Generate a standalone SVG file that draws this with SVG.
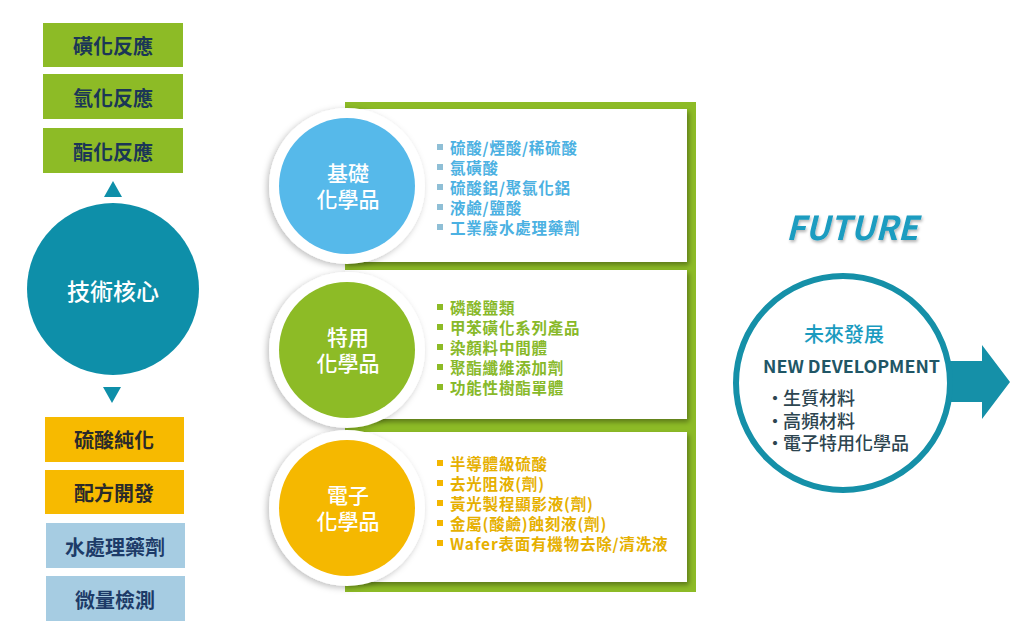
<svg xmlns="http://www.w3.org/2000/svg" width="1024" height="634" viewBox="0 0 1024 634">
<defs>
<filter id="sh" x="-20%" y="-20%" width="140%" height="140%">
<feDropShadow dx="2" dy="3" stdDeviation="2.5" flood-color="#000" flood-opacity="0.35"/>
</filter>
<filter id="rsh" x="-20%" y="-20%" width="140%" height="140%">
<feDropShadow dx="-2" dy="2" stdDeviation="3" flood-color="#000" flood-opacity="0.25"/>
</filter>
<filter id="tsh" x="-10%" y="-20%" width="120%" height="150%">
<feDropShadow dx="1" dy="2" stdDeviation="1.5" flood-color="#000" flood-opacity="0.3"/>
</filter>
</defs>
<style>
text{font-family:"Noto Sans CJK TC","Noto Sans",sans-serif;dominant-baseline:central}
.lbl{font-size:20px;font-weight:700;text-anchor:middle}
.g{fill:#8dbb26}
.o{fill:#f7ba00}
.b{fill:#a6cce2}
.cl{font-size:21px;fill:#fff;text-anchor:middle;font-weight:500}
.li{font-size:15.5px;font-weight:700;letter-spacing:0.8px}
.t1{fill:#4cb1e2}.t2{fill:#88b929}.t3{fill:#e6b000}
.rt{font-size:18px;fill:#2d4550;font-weight:500}
</style>
<rect width="1024" height="634" fill="#fff"/>

<g id="top-boxes">
<rect class="g" x="43" y="23" width="140" height="44"/>
<text class="lbl" x="113" y="45" fill="#1b3656">磺化反應</text>
<rect class="g" x="43" y="74" width="140" height="45"/>
<text class="lbl" x="113" y="97" fill="#1b3656">氫化反應</text>
<rect class="g" x="43" y="128" width="140" height="45"/>
<text class="lbl" x="113" y="151" fill="#1b3656">酯化反應</text>
</g>

<g id="connectors">
<polygon points="113,181 122,197 104,197" fill="#0e8fa9"/>
<polygon points="103,387 121,387 112,403" fill="#0e8fa9"/>
<polygon points="950,361 982,361 982,345 1010,382 982,419 982,402 950,402" fill="#1590a8"/>
</g>

<g id="core">
<circle cx="113" cy="289" r="86" fill="#0e8fa9"/>
<text x="113" y="290" font-size="23" font-weight="500" fill="#fff" text-anchor="middle">技術核心</text>
</g>

<g id="bottom-boxes">
<rect class="o" x="45" y="417" width="139" height="45"/>
<text class="lbl" x="114" y="439" fill="#2a2a2a">硫酸純化</text>
<rect class="o" x="45" y="470" width="139" height="44"/>
<text class="lbl" x="114" y="492" fill="#2a2a2a">配方開發</text>
<rect class="b" x="46" y="523" width="139" height="45"/>
<text class="lbl" x="115" y="546" fill="#1d3b68" font-size="19">水處理藥劑</text>
<rect class="b" x="46" y="576" width="139" height="45"/>
<text class="lbl" x="115" y="599" fill="#1d3b68" font-size="19">微量檢測</text>
</g>

<g id="frame">
<rect class="g" x="345" y="102" width="351" height="490"/>
</g>

<g id="panel-basic">
<rect x="345" y="109" width="342" height="153" fill="#fff" filter="url(#sh)"/>
<circle cx="347" cy="186" r="78" fill="#fff" filter="url(#rsh)"/>
<circle cx="347" cy="186" r="68" fill="#56b9ea"/>
<text class="cl" x="348" y="172">基礎</text>
<text class="cl" x="348" y="198">化學品</text>
<g fill="#8fbfd6">
<rect x="437" y="144" width="6" height="6"/><rect x="437" y="164" width="6" height="6"/><rect x="437" y="184" width="6" height="6"/><rect x="437" y="204" width="6" height="6"/><rect x="437" y="224" width="6" height="6"/>
</g>
<text class="li t1" x="450" y="147">硫酸/煙酸/稀硫酸</text>
<text class="li t1" x="450" y="167">氯磺酸</text>
<text class="li t1" x="450" y="187">硫酸鋁/聚氯化鋁</text>
<text class="li t1" x="450" y="207">液鹼/鹽酸</text>
<text class="li t1" x="450" y="227">工業廢水處理藥劑</text>
</g>

<g id="panel-special">
<rect x="345" y="270" width="342" height="149" fill="#fff" filter="url(#sh)"/>
<circle cx="347" cy="350" r="78" fill="#fff" filter="url(#rsh)"/>
<circle cx="347" cy="350" r="68" fill="#8dbb26"/>
<text class="cl" x="348" y="336">特用</text>
<text class="cl" x="348" y="362">化學品</text>
<g fill="#8dbb26">
<rect x="437" y="304" width="6" height="6"/><rect x="437" y="324" width="6" height="6"/><rect x="437" y="344" width="6" height="6"/><rect x="437" y="364" width="6" height="6"/><rect x="437" y="384" width="6" height="6"/>
</g>
<text class="li t2" x="450" y="307">磷酸鹽類</text>
<text class="li t2" x="450" y="327">甲苯磺化系列產品</text>
<text class="li t2" x="450" y="347">染顏料中間體</text>
<text class="li t2" x="450" y="367">聚酯纖維添加劑</text>
<text class="li t2" x="450" y="387">功能性樹酯單體</text>
</g>

<g id="panel-electronic">
<rect x="345" y="432" width="342" height="150" fill="#fff" filter="url(#sh)"/>
<circle cx="347" cy="508" r="78" fill="#fff" filter="url(#rsh)"/>
<circle cx="347" cy="508" r="68" fill="#f5b800"/>
<text class="cl" x="348" y="494">電子</text>
<text class="cl" x="348" y="520">化學品</text>
<g fill="#f3b600">
<rect x="437" y="460" width="6" height="6"/><rect x="437" y="480" width="6" height="6"/><rect x="437" y="500" width="6" height="6"/><rect x="437" y="520" width="6" height="6"/><rect x="437" y="540" width="6" height="6"/>
</g>
<text class="li t3" x="450" y="463">半導體級硫酸</text>
<text class="li t3" x="450" y="483">去光阻液(劑)</text>
<text class="li t3" x="450" y="503">黃光製程顯影液(劑)</text>
<text class="li t3" x="450" y="523">金屬(酸鹼)蝕刻液(劑)</text>
<text class="li t3" x="450" y="543">Wafer表面有機物去除/清洗液</text>
</g>

<g id="future">
<text x="852" y="226" font-family="Liberation Sans,Arial,sans-serif" font-size="33" font-weight="700" font-style="italic" fill="#1a9cc0" text-anchor="middle" filter="url(#tsh)">FUTURE</text>
<circle cx="843" cy="383" r="107" fill="#fff" stroke="#1590a8" stroke-width="6"/>
<text x="844" y="333" font-size="20" fill="#1a9bbf" text-anchor="middle" font-weight="500">未來發展</text>
<text x="763" y="365" font-family="Open Sans,sans-serif" font-size="17" font-weight="700" fill="#1f5666" textLength="177" lengthAdjust="spacingAndGlyphs" dominant-baseline="central">NEW DEVELOPMENT</text>
<text class="rt" y="397"><tspan x="766">•</tspan><tspan x="783">生質材料</tspan></text>
<text class="rt" y="420"><tspan x="766">•</tspan><tspan x="783">高頻材料</tspan></text>
<text class="rt" y="442"><tspan x="766">•</tspan><tspan x="783">電子特用化學品</tspan></text>
</g>
</svg>
